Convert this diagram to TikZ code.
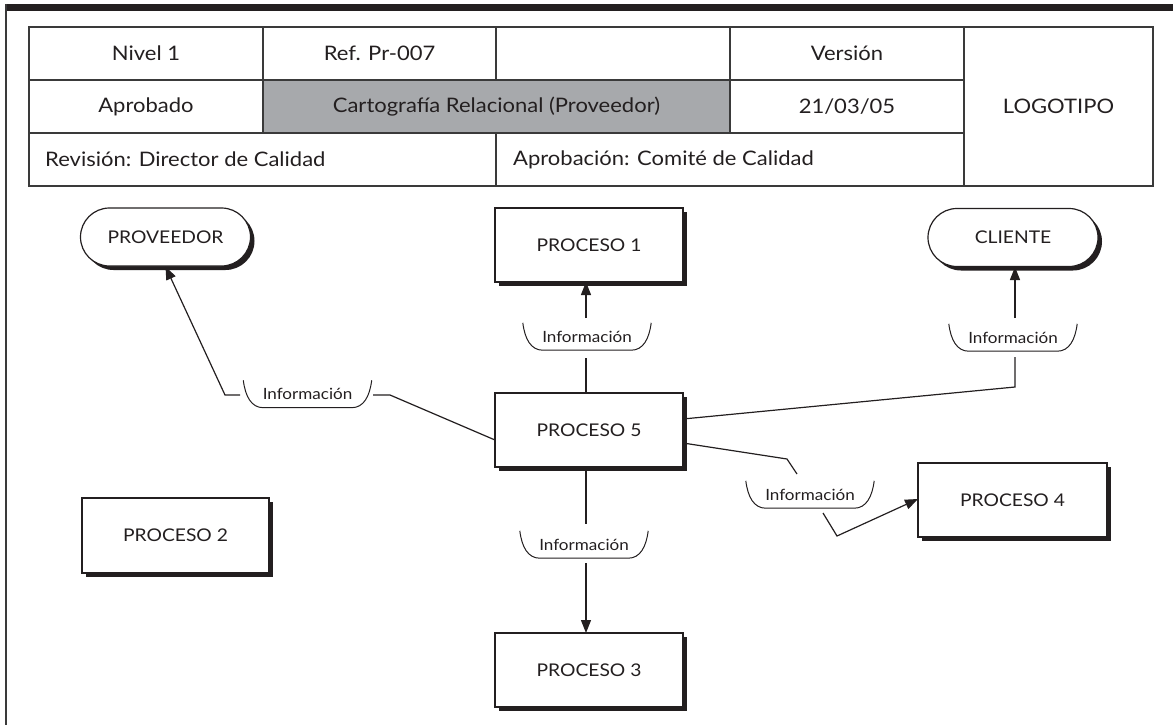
\documentclass[tikz,border=0pt]{standalone}
\usepackage{fontspec}
\setmainfont{Lato}[FakeStretch=1.1]
\usetikzlibrary{arrows.meta,shadows}
\definecolor{ink}{HTML}{231F20}
\definecolor{hgray}{HTML}{A7A9AC}
\definecolor{rule}{HTML}{3A3A3A}
\tikzset{
  tbl/.style={draw=rule, line width=1.3pt},
  htext/.style={text=ink, inner sep=0pt, font=\fontsize{20}{24}\selectfont},
  shad/.style={drop shadow={shadow xshift=4pt, shadow yshift=-4pt, opacity=1, fill=ink}},
  proc/.style={draw=ink, fill=white, line width=1.2pt, minimum width=188pt, minimum height=74pt,
    text=ink, font=\fontsize{17.5}{21}\selectfont, shad},
  ext/.style={proc, rounded corners=29pt, minimum width=170pt, minimum height=58pt},
  info/.style={inner sep=0pt, minimum width=128pt, minimum height=27pt, text=ink,
    font=\fontsize{15.5}{18}\selectfont},
  bracket/.style={draw=ink, line width=1pt},
  conn/.style={draw=ink, line width=1.2pt},
  arr/.style={conn, -{Triangle[length=13pt,width=10pt]}}
}
\begin{document}
\begin{tikzpicture}[x=1pt,y=-1pt]
\useasboundingbox (0,0) rectangle (1173,725);
% frame
\fill[ink] (5,4) rectangle (1173,11);
\draw[rule, line width=2pt] (6,4) -- (6,725);
% header table
\fill[hgray] (263,80) rectangle (730,133);
\draw[tbl] (29,27) rectangle (1153,186);
\draw[tbl] (29,80) -- (964,80) (29,133) -- (964,133);
\draw[tbl] (263,27) -- (263,133) (496,27) -- (496,80) (496,133) -- (496,186)
  (730,27) -- (730,133) (964,27) -- (964,186);
\node[htext] (h1) at (146,53.5) {Nivel 1};
\node[htext] (h2) at (379.5,53.5) {Ref. Pr-007};
\node[htext] (h3) at (847,53.5) {Versión};
\node[htext] (h4) at (146,106.5) {Aprobado};
\node[htext] (h5) at (496.5,106.5) {Cartografía Relacional (Proveedor)};
\node[htext] (h6) at (847,106.5) {21/03/05};
\node[htext, anchor=west] (h7) at (45,159.5) {Revisión: Director de Calidad};
\node[htext, anchor=west] (h8) at (513,159.5) {Aprobación: Comité de Calidad};
\node[htext] (h9) at (1058.5,106.5) {LOGOTIPO};
% nodes
\node[ext] (prov) at (165.5,237) {PROVEEDOR};
\node[proc] (p1) at (589,245) {PROCESO 1};
\node[ext] (cli) at (1013,237.5) {CLIENTE};
\node[proc] (p5) at (589,430) {PROCESO 5};
\node[proc, minimum width=187pt, minimum height=75pt] (p2) at (175.5,535.5) {PROCESO 2};
\node[proc, minimum width=189pt] (p4) at (1012.5,500) {PROCESO 4};
\node[proc] (p3) at (589,670) {PROCESO 3};
% info labels
\node[info] (i1) at (587,336.5) {Información};
\node[info] (ip) at (307.5,394) {Información};
\node[info] (ic) at (1013,337.5) {Información};
\node[info] (i4) at (810,494.5) {Información};
\node[info] (i3) at (584,544.5) {Información};
\foreach \n in {i1,ip,ic,i4,i3}{
  \draw[bracket] (\n.north west) .. controls +(2,16) and +(-12,0) .. ([xshift=20pt]\n.south west)
    -- ([xshift=-20pt]\n.south east) .. controls +(12,0) and +(-2,16) .. (\n.north east);
}
% connectors
\coordinate (a1) at (586,393);
\coordinate (a2) at (586,358);
\coordinate (a3) at (586,318);
\coordinate (a4) at (586,282);
\draw[conn] (a1) -- (a2);
\draw[arr] (a3) -- (a4);

\coordinate (b1) at (495,440);
\coordinate (b2) at (390,395);
\coordinate (b3) at (373,395);
\coordinate (b4) at (240,395);
\coordinate (b5) at (225,395);
\draw[conn] (b1) -- (b2) -- (b3);
\draw[arr] (b4) -- (b5) -- (prov.south);

\coordinate (c1) at (683,419);
\coordinate (c2) at (1015,387);
\coordinate (c3) at (1015,357);
\coordinate (c4) at (1015,318);
\coordinate (c5) at (1015,267);
\draw[conn] (c1) -- (c2) -- (c3);
\draw[arr] (c4) -- (c5);

\coordinate (d1) at (683,443);
\coordinate (d2) at (787,459);
\coordinate (d3) at (797,474);
\coordinate (d4) at (823,513);
\coordinate (d5) at (837,536);
\coordinate (d6) at (918,499);
\draw[conn] (d1) -- (d2) -- (d3);
\draw[arr] (d4) -- (d5) -- (d6);

\coordinate (e1) at (586,467);
\coordinate (e2) at (586,524);
\coordinate (e3) at (586,563);
\coordinate (e4) at (586,633);
\draw[conn] (e1) -- (e2);
\draw[arr] (e3) -- (e4);
\end{tikzpicture}
\end{document}
